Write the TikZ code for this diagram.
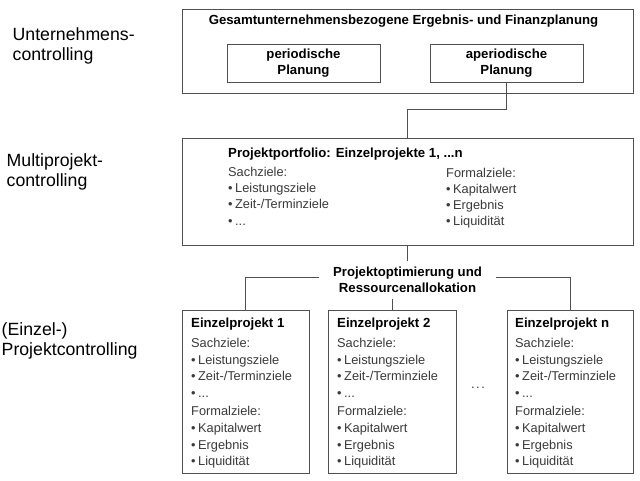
\documentclass[tikz,border=0pt]{standalone}
\usepackage{fontspec}
\setmainfont{Liberation Sans}
\definecolor{linec}{HTML}{505050}
\definecolor{bodyc}{HTML}{3A3A3A}
\newcommand{\blt}{•\kern2.5pt}
\begin{document}
\begin{tikzpicture}[x=1pt,y=-1pt,
  box/.style={draw=linec, line width=0.9pt, inner sep=0pt},
  conn/.style={draw=linec, line width=0.9pt},
  lbl/.style={anchor=base west, inner sep=0pt, align=left, font=\fontsize{17.7}{20}\selectfont},
  ttl/.style={anchor=base west, inner sep=0pt, font=\fontsize{13.2}{16}\selectfont\bfseries},
  body/.style={anchor=base west, inner sep=0pt, align=left, text=bodyc, font=\fontsize{12.8}{16.7}\selectfont},
  midbody/.style={body, font=\fontsize{12.8}{16.2}\selectfont},
  btxt/.style={align=center, font=\fontsize{13.2}{16}\selectfont\bfseries},
]
\useasboundingbox[fill=white] (0,0) rectangle (640,480);

% left level labels (base = last line)
\node[lbl] (l1) at (12.5,60) {Unternehmens-\\controlling};
\node[lbl] (l2) at (6.5,186.5) {Multiprojekt-\\controlling};
\node[lbl] (l3) at (1.5,355) {(Einzel-)\\Projektcontrolling};

% top level
\node[box, minimum width=451pt, minimum height=84pt] (top) at (407.5,51) {};
\node[ttl, anchor=base] (toptitle) at (403.5,24.5) {Gesamtunternehmensbezogene Ergebnis- und Finanzplanung};
\node[box, btxt, minimum width=153pt, minimum height=38pt] (per) at (303.5,63) {periodische\\Planung};
\node[box, btxt, minimum width=153pt, minimum height=38pt] (aper) at (506.5,63) {aperiodische\\Planung};

% middle level
\node[box, minimum width=451pt, minimum height=107pt] (mid) at (407.5,191.5) {};
\node[ttl] (midtitle) at (228,157.5) {Projektportfolio: Einzelprojekte 1, ...n};
\node[midbody] (midsach) at (228,225.1) {Sachziele:\\\blt Leistungsziele\\\blt Zeit-/Terminziele\\\blt ...};
\node[midbody] (midform) at (446,225.6) {Formalziele:\\\blt Kapitalwert\\\blt Ergebnis\\\blt Liquidität};

% optimisation label
\node[btxt, inner xsep=13.5pt, inner ysep=6pt] (opt) at (407.5,280) {Projektoptimierung und\\Ressourcenallokation};

% bottom level
\node[box, minimum width=127pt, minimum height=163pt] (b1) at (245.5,391.5) {};
\node[box, minimum width=128pt, minimum height=163pt] (b2) at (392,391.5) {};
\node[box, minimum width=126pt, minimum height=163pt] (bn) at (570,391.5) {};

\node[ttl] (b1t) at (191,327.5) {Einzelprojekt 1};
\node[ttl] (b2t) at (337,327.5) {Einzelprojekt 2};
\node[ttl] (bnt) at (515,327.5) {Einzelprojekt n};

\node[body] (b1b) at (191,465.9) {Sachziele:\\\blt Leistungsziele\\\blt Zeit-/Terminziele\\\blt ...\\[1.5pt]Formalziele:\\\blt Kapitalwert\\\blt Ergebnis\\\blt Liquidität};
\node[body] (b2b) at (337,465.9) {Sachziele:\\\blt Leistungsziele\\\blt Zeit-/Terminziele\\\blt ...\\[1.5pt]Formalziele:\\\blt Kapitalwert\\\blt Ergebnis\\\blt Liquidität};
\node[body] (bnb) at (515,465.9) {Sachziele:\\\blt Leistungsziele\\\blt Zeit-/Terminziele\\\blt ...\\[1.5pt]Formalziele:\\\blt Kapitalwert\\\blt Ergebnis\\\blt Liquidität};

\node[text=bodyc, inner sep=0pt, font=\fontsize{12.8}{15}\selectfont] (dots) at (478,388) {.\kern1.5pt.\kern1.5pt.};

% connectors
\coordinate (j1) at (407.5,109);
\draw[conn] (aper.south) |- (j1) -- (mid.north);
\draw[conn] (mid.south) -- (opt.north);
\draw[conn] ([yshift=3pt]opt.west) -| (b1.north);
\draw[conn] ([yshift=3pt]opt.east) -| (bn.north);
\draw[conn] (opt.south -| b2.north) -- (b2.north);
\end{tikzpicture}
\end{document}
